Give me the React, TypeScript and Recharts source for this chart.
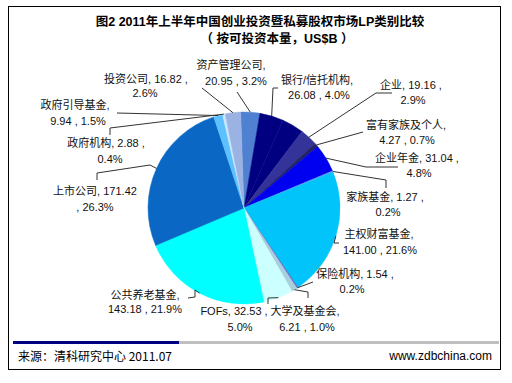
import { PieChart, Pie, Cell } from "recharts";

// LP 类别（按饼图顺时针顺序，自顶部开始）
const NAMES = [
  "资产管理公司",
  "银行/信托机构",
  "其他",
  "企业",
  "富有家族及个人",
  "企业年金",
  "家族基金",
  "主权财富基金",
  "保险机构",
  "大学及基金会",
  "FOFs",
  "公共养老基金",
  "上市公司",
  "政府引导基金",
  "政府机构",
  "投资公司",
];
const VALUES = [
  20.95, 26.08, 24.0, 19.16, 4.27, 31.04, 1.27, 141.0, 1.54, 6.21, 32.53, 143.18, 171.42, 9.94,
  2.88, 16.82,
];
const PCTS = [
  "3.2%", "4.0%", "", "2.9%", "0.7%", "4.8%", "0.2%", "21.6%", "0.2%", "1.0%", "5.0%", "21.9%",
  "26.3%", "1.5%", "0.4%", "2.6%",
];

const COLORS = [
  "#4f80d2", "#000080", "#000080", "#333399", "#222266", "#0000f0", "#6699ff", "#00c4fa",
  "#6666cc", "#a8d0dc", "#ccffff", "#00ffff", "#0a68c4", "#5ec0ff", "#cce8ff", "#9bb3e3",
];

const data = NAMES.map((name, i) => ({ name, value: VALUES[i], pct: PCTS[i] }));

// 标签布局: split 0 = "名称," / "值 , 比例"; 1 = "名称, 值 ," / "比例"; 2 = "名称, 值" / ", 比例"
type Layout = { split: number; x1: number; y1: number; x2: number; y2: number; path: [number, number][] };
const LAYOUT: Record<string, Layout> = {
  资产管理公司: { split: 0, x1: 231, y1: 65, x2: 236, y2: 81, path: [[237, 92]] },
  "银行/信托机构": { split: 0, x1: 317, y1: 80, x2: 319, y2: 95, path: [[273, 88], [278, 88]] },
  企业: { split: 1, x1: 411, y1: 85, x2: 413, y2: 100, path: [[376, 93], [392, 93]] },
  富有家族及个人: { split: 0, x1: 406, y1: 125, x2: 407, y2: 140, path: [[363, 132]] },
  企业年金: { split: 1, x1: 417, y1: 158, x2: 419, y2: 173, path: [[366, 167], [398, 167]] },
  家族基金: { split: 1, x1: 385, y1: 197, x2: 388, y2: 212, path: [[386, 180], [386, 188]] },
  主权财富基金: { split: 0, x1: 379, y1: 234, x2: 380, y2: 250, path: [[334, 243], [339, 243]] },
  保险机构: { split: 1, x1: 355, y1: 274, x2: 352, y2: 289, path: [[313, 282]] },
  大学及基金会: { split: 0, x1: 305, y1: 311, x2: 307, y2: 327, path: [[308, 292], [308, 298]] },
  FOFs: { split: 1, x1: 234, y1: 311, x2: 240, y2: 327, path: [[268, 298], [268, 304]] },
  公共养老基金: { split: 0, x1: 145, y1: 295, x2: 145, y2: 309, path: [[195, 290], [195, 297], [188, 298]] },
  上市公司: { split: 2, x1: 95, y1: 191, x2: 95, y2: 207, path: [[150, 165], [97, 173], [97, 180]] },
  政府引导基金: { split: 0, x1: 75, y1: 105, x2: 78, y2: 121, path: [[117, 113]] },
  政府机构: { split: 1, x1: 106, y1: 143, x2: 110, y2: 159, path: [[110, 128], [110, 135]] },
  投资公司: { split: 1, x1: 146, y1: 79, x2: 145, y2: 93, path: [[202, 88]] },
};

const FONT = "'Liberation Sans', Arial, 'Noto Sans CJK SC', sans-serif";
const RADIAN = Math.PI / 180;

function renderLabel(props: any) {
  const { cx, cy, midAngle, outerRadius, name, value, payload } = props;
  const lay = LAYOUT[name];
  if (!lay) return null;
  const sx = cx + outerRadius * Math.cos(-midAngle * RADIAN);
  const sy = cy + outerRadius * Math.sin(-midAngle * RADIAN);
  const pts = [[sx, sy], ...lay.path].map((p) => p.join(",")).join(" ");
  const v = Number(value).toFixed(2);
  const pct = payload.pct;
  let l1 = `${name},`;
  let l2 = `${v} , ${pct}`;
  if (lay.split === 1) {
    l1 = `${name}, ${v} ,`;
    l2 = pct;
  } else if (lay.split === 2) {
    l1 = `${name}, ${v}`;
    l2 = `, ${pct}`;
  }
  return (
    <g>
      <polyline points={pts} fill="none" stroke="#333" strokeWidth={1} />
      <text x={lay.x1} y={lay.y1} textAnchor="middle" dominantBaseline="central" fontSize={11} fill="#111" fontFamily={FONT}>
        {l1}
      </text>
      <text x={lay.x2} y={lay.y2} textAnchor="middle" dominantBaseline="central" fontSize={11} fill="#111" fontFamily={FONT}>
        {l2}
      </text>
    </g>
  );
}

export default function App() {
  return (
    <div style={{ position: "absolute", left: 0, top: 0, width: 512, height: 383, background: "#fff" }}>
      <div
        style={{
          position: "absolute",
          left: 8,
          top: 6,
          width: 491,
          height: 362,
          border: "1px solid #000",
        }}
      />
      <div
        style={{
          position: "absolute",
          left: 0,
          width: 520,
          top: 15,
          textAlign: "center",
          fontFamily: "'Liberation Sans', 'Noto Sans CJK SC', sans-serif",
          fontWeight: "bold",
          fontSize: 12.5,
          lineHeight: "14px",
          color: "#000",
        }}
      >
        图2 2011年上半年中国创业投资暨私募股权市场LP类别比较
      </div>
      <div
        style={{
          position: "absolute",
          left: 157,
          width: 240,
          top: 32,
          textAlign: "center",
          fontFamily: "'Liberation Sans', 'Noto Sans CJK SC', sans-serif",
          fontWeight: "bold",
          fontSize: 12.5,
          lineHeight: "14px",
          color: "#000",
          whiteSpace: "pre",
        }}
      >
        {"（ 按可投资本量，US$B ）"}
      </div>
      <div style={{ position: "absolute", left: 0, top: 0 }}>
        <PieChart width={512} height={383}>
          <Pie
            data={data}
            dataKey="value"
            nameKey="name"
            cx={239}
            cy={203}
            outerRadius={96}
            startAngle={92}
            endAngle={-268}
            label={renderLabel}
            labelLine={false}
            isAnimationActive={false}
          >
            {data.map((d, i) => (
              <Cell key={d.name} fill={COLORS[i]} stroke={COLORS[i]} strokeWidth={0.5} />
            ))}
          </Pie>
        </PieChart>
      </div>
      <div style={{ position: "absolute", left: 13, top: 341, width: 166, height: 3, background: "#000080" }} />
      <div style={{ position: "absolute", left: 179, top: 341, width: 320, height: 3, background: "#c0c0c0" }} />
      <div
        style={{
          position: "absolute",
          left: 18,
          top: 349,
          fontFamily: "'Noto Sans CJK SC', sans-serif",
          fontSize: 12,
          lineHeight: "14px",
          color: "#000",
        }}
      >
        来源：清科研究中心 2011.07
      </div>
      <div
        style={{
          position: "absolute",
          right: 20,
          top: 349,
          fontFamily: FONT,
          fontSize: 12,
          lineHeight: "14px",
          color: "#000",
        }}
      >
        www.zdbchina.com
      </div>
    </div>
  );
}
